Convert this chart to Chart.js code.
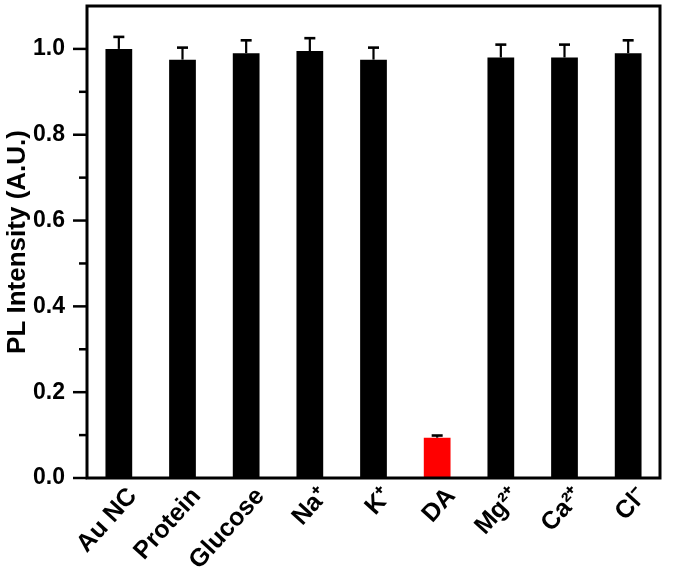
<!DOCTYPE html>
<html>
<head>
<meta charset="utf-8">
<script src="https://cdn.jsdelivr.net/npm/chart.js@4.4.0/dist/chart.umd.min.js"></script>
<style>
  html, body { margin: 0; padding: 0; background: #fff; }
</style>
</head>
<body>
<canvas id="chart" width="675" height="576"></canvas>
<script>
// Donnees
const categories = ['Au NC', 'Protein', 'Glucose', 'Na⁺', 'K⁺', 'DA', 'Mg²⁺', 'Ca²⁺', 'Cl⁻'];
const intensity = [1.0, 0.975, 0.99, 0.995, 0.975, 0.094, 0.98, 0.98, 0.99];
const errors = [0.028, 0.028, 0.03, 0.03, 0.028, 0.005, 0.03, 0.03, 0.03];
const barColors = ['#000000', '#000000', '#000000', '#000000', '#000000', '#ff0000', '#000000', '#000000', '#000000'];
const yMajorTicks = [0, 0.2, 0.4, 0.6, 0.8, 1.0];
const yMinorTicks = [0.1, 0.3, 0.5, 0.7, 0.9];

const FONT = '"Liberation Sans", Arial, sans-serif';

// barres d'erreur + cadre + graduations
const framePlugin = {
    id: 'frame',
    afterDatasetsDraw(chart) {
        const ctx = chart.ctx;
        const y = chart.scales.y;
        const meta = chart.getDatasetMeta(0);
        ctx.save();
        ctx.strokeStyle = '#000';
        meta.data.forEach((bar, i) => {
            const yBar = y.getPixelForValue(intensity[i]);
            const yTop = y.getPixelForValue(intensity[i] + errors[i]);
            ctx.lineWidth = 2.2;
            ctx.beginPath();
            ctx.moveTo(bar.x, yBar);
            ctx.lineTo(bar.x, yTop);
            ctx.stroke();
            ctx.lineWidth = 2.6;
            ctx.beginPath();
            ctx.moveTo(bar.x - 5.5, yTop);
            ctx.lineTo(bar.x + 5.5, yTop);
            ctx.stroke();
        });
        ctx.restore();
    },
    afterDraw(chart) {
        const ctx = chart.ctx;
        const a = chart.chartArea;
        const y = chart.scales.y;
        ctx.save();
        ctx.strokeStyle = '#000';
        ctx.lineWidth = 3;
        ctx.strokeRect(a.left, a.top, a.right - a.left, a.bottom - a.top);
        ctx.lineWidth = 2.5;
        yMajorTicks.forEach(v => {
            const py = y.getPixelForValue(v);
            ctx.beginPath();
            ctx.moveTo(a.left - 14, py);
            ctx.lineTo(a.left, py);
            ctx.stroke();
        });
        yMinorTicks.forEach(v => {
            const py = y.getPixelForValue(v);
            ctx.beginPath();
            ctx.moveTo(a.left - 8, py);
            ctx.lineTo(a.left, py);
            ctx.stroke();
        });
        ctx.restore();
    }
};

const ctx = document.getElementById('chart').getContext('2d');
const chart = new Chart(ctx, {
    type: 'bar',
    data: {
        labels: categories,
        datasets: [{
            data: intensity,
            backgroundColor: barColors,
            borderWidth: 0,
            barPercentage: 0.42,
            categoryPercentage: 1.0
        }]
    },
    options: {
        responsive: false,
        animation: false,
        devicePixelRatio: 1,
        layout: { padding: { top: 6, right: 15, left: 0, bottom: 0 } },
        plugins: {
            legend: { display: false },
            tooltip: { enabled: false }
        },
        scales: {
            x: {
                grid: { display: false, drawTicks: false },
                border: { display: false },
                ticks: {
                    color: '#000',
                    font: { family: FONT, size: 25, weight: 'bold' },
                    minRotation: 48,
                    maxRotation: 48,
                    autoSkip: false,
                    labelOffset: 14,
                    padding: 4
                },
                afterFit: s => {
                    s.height = 98;
                    s.paddingLeft = 0;
                    s.paddingRight = 0;
                }
            },
            y: {
                min: 0,
                max: 1.1,
                grid: { display: false, drawTicks: false },
                border: { display: false },
                afterBuildTicks: s => { s.ticks = yMajorTicks.map(v => ({ value: v })); },
                ticks: {
                    color: '#000',
                    font: { family: FONT, size: 23, weight: 'bold' },
                    padding: 22,
                    callback: v => Number(v).toFixed(1)
                },
                title: {
                    display: true,
                    text: 'PL Intensity (A.U.)',
                    color: '#000',
                    font: { family: FONT, size: 26, weight: 'bold' },
                    padding: { top: 2, bottom: 0 }
                },
                afterFit: s => {
                    s.width = 87;
                    s.paddingTop = 0;
                    s.paddingBottom = 0;
                }
            }
        }
    },
    plugins: [framePlugin]
});
</script>
</body>
</html>
